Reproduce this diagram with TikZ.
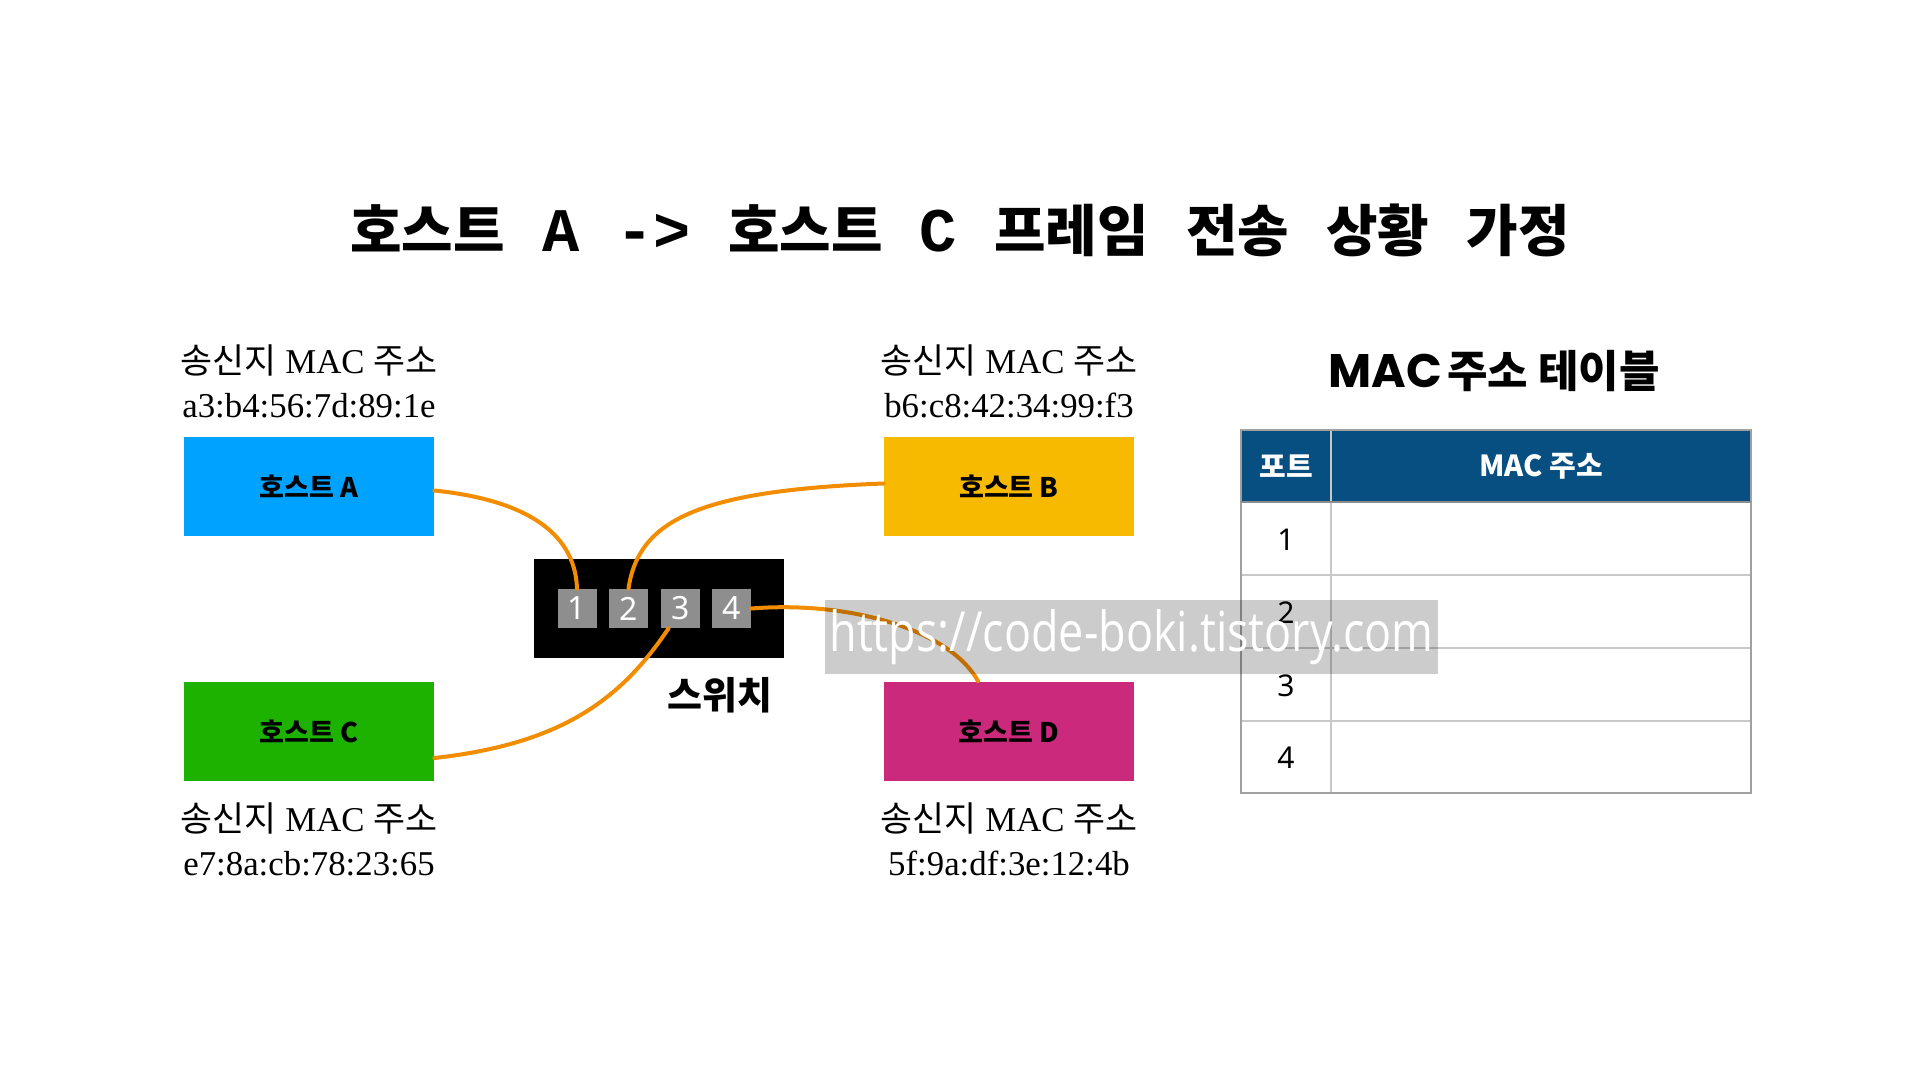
\documentclass[tikz,border=0pt]{standalone}
\usepackage{fontspec}
\usepackage{graphicx}
\setmainfont{Liberation Serif}
\newfontfamily\krf{Noto Sans CJK KR}
\newfontfamily\mymono{Liberation Mono}
\newfontfamily\popf{Poppins}
\newfontfamily\wmf{Open Sans}
\newfontfamily\nsf{Noto Sans}
\newcommand{\K}[1]{{\krf\bfseries\fontsize{28}{32}\selectfont #1}}
\definecolor{colA}{RGB}{0,162,255}
\definecolor{colB}{RGB}{248,186,0}
\definecolor{colC}{RGB}{29,177,0}
\definecolor{colD}{RGB}{203,41,123}
\definecolor{cable}{RGB}{242,140,0}
\definecolor{portgray}{RGB}{142,142,142}
\definecolor{hdrblue}{RGB}{7,79,128}
\definecolor{gridgray}{RGB}{200,200,200}
\begin{document}
\begin{tikzpicture}[x=0.5pt,y=-0.5pt,
  hostbox/.style={rectangle, minimum width=125pt, minimum height=49.5pt, inner sep=0pt, font=\krf\bfseries\fontsize{13.5}{16}\selectfont},
  lbl/.style={anchor=base, inner sep=0pt, font=\fontsize{17.4}{20}\selectfont},
  portbox/.style={rectangle, fill=portgray, minimum size=19.5pt, inner sep=0pt, text=white, font=\nsf\bfseries\fontsize{16}{18}\selectfont},
  wire/.style={draw=cable, line width=2pt, line cap=round},
  gridline/.style={draw=gridgray, line width=0.8pt},
  celltxt/.style={inner sep=0pt, font=\nsf\fontsize{15}{18}\selectfont},
  hdrtxt/.style={inner sep=0pt, text=white, font=\krf\bfseries\fontsize{14.5}{17}\selectfont}
]
\useasboundingbox (0,0) rectangle (1920,1080);
\fill[white] (0,0) rectangle (1920,1080);

% title
\node[anchor=base, inner sep=0pt, font=\mymono\bfseries\fontsize{31}{36}\selectfont] (title) at (960,252)
  {\K{호스트} A -> \K{호스트} C \K{프레임} \K{전송} \K{상황} \K{가정}};

% hosts
\node[hostbox, fill=colA] (hostA) at (309,486.5) {호스트 A};
\node[hostbox, fill=colB] (hostB) at (1009,486.5) {호스트 B};
\node[hostbox, fill=colC] (hostC) at (309,731) {호스트 C};
\node[hostbox, fill=colD] (hostD) at (1009,731) {호스트 D};

% labels
\node[lbl] (labA1) at (309,373) {{\krf 송신지} MAC {\krf 주소}};
\node[lbl] (labA2) at (309,417) {a3:b4:56:7d:89:1e};
\node[lbl] (labB1) at (1009,373) {{\krf 송신지} MAC {\krf 주소}};
\node[lbl] (labB2) at (1009,417) {b6:c8:42:34:99:f3};
\node[lbl] (labC1) at (309,831) {{\krf 송신지} MAC {\krf 주소}};
\node[lbl] (labC2) at (309,875) {e7:8a:cb:78:23:65};
\node[lbl] (labD1) at (1009,831) {{\krf 송신지} MAC {\krf 주소}};
\node[lbl] (labD2) at (1009,875) {5f:9a:df:3e:12:4b};

% switch
\node[rectangle, fill=black, minimum width=125pt, minimum height=49.5pt, inner sep=0pt] (switch) at (659,608.5) {};
\node[anchor=base, inner sep=0pt, font=\krf\bfseries\fontsize{19}{22}\selectfont] (swlabel) at (720,709) {스위치};

% ports
\node[portbox] (p1) at (577,608.5) {1};
\node[portbox] (p2) at (628.5,608.5) {2};
\node[portbox] (p3) at (680.5,608.5) {3};
\node[portbox] (p4) at (731.5,608.5) {4};

% cables
\draw[wire] ([yshift=-2pt]hostA.east) .. controls +(86,9) and +(-2,-59) .. (p1.north);
\draw[wire] (p2.north) .. controls +(10,-69) and +(-184,7) .. ([yshift=1.5pt]hostB.west);
\draw[wire] ([xshift=-6pt]p3.south) .. controls +(-48,72) and +(126,-14) .. ([yshift=-13.5pt]hostC.east);
\draw[wire] (p4.east) .. controls +(99,-8) and +(-28,-51) .. ([xshift=-15.5pt]hostD.north);

% table
\node[anchor=base, inner sep=0pt] (tbltitle) at (1494,387)
  {{\popf\bfseries\fontsize{23.5}{26}\selectfont MAC} {\krf\bfseries\fontsize{22}{24}\selectfont 주소 테이블}};
\fill[hdrblue] (1241,430) rectangle (1751,502);
\draw[gridline] (1241,575) -- (1751,575);
\draw[gridline] (1241,648) -- (1751,648);
\draw[gridline] (1241,721) -- (1751,721);
\draw[gridline] (1331,430) -- (1331,793);
\draw[draw=gridgray!80!black, line width=0.8pt] (1241,430) rectangle (1751,793);
\draw[draw=gridgray!70!black, line width=1.2pt] (1241,502) -- (1751,502);
\node[hdrtxt] (h1) at (1286,466) {포트};
\node[hdrtxt] (h2) at (1541,466) {MAC 주소};
\node[celltxt] (c1) at (1286,540) {1};
\node[celltxt] (c2) at (1286,613) {2};
\node[celltxt] (c3) at (1286,686) {3};
\node[celltxt] (c4) at (1286,758) {4};

% watermark
\node[rectangle, fill=black, fill opacity=0.2, text opacity=1, text=white, minimum width=306.5pt, minimum height=37pt, inner sep=0pt] (wm) at (1131.5,637)
  {\resizebox{302pt}{21pt}{\wmf https://code-boki.tistory.com}};
\end{tikzpicture}
\end{document}
